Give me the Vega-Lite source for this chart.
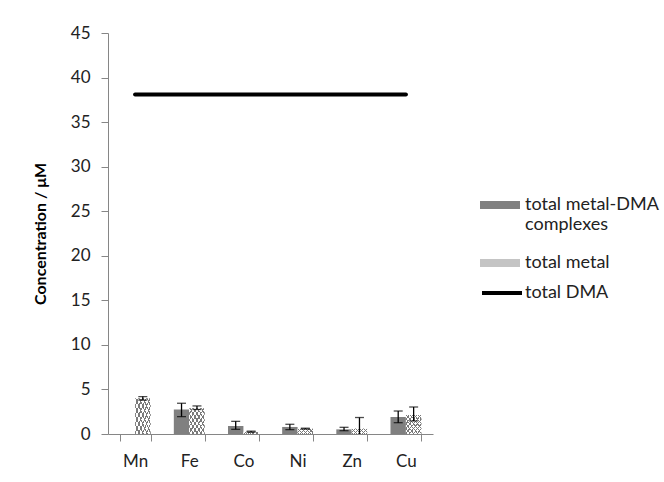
{
  "$schema": "https://vega.github.io/schema/vega-lite/v6.json",
  "width": 325,
  "height": 401,
  "autosize": {"type": "none"},
  "padding": {"left": 108, "top": 33, "right": 231, "bottom": 48},
  "background": "white",
  "config": {
    "view": {"stroke": null},
    "font": "Lato",
    "axis": {
      "domainColor": "#868686",
      "tickColor": "#868686",
      "labelColor": "#222222",
      "labelFont": "Lato",
      "labelFontSize": 17,
      "grid": false
    },
    "legend": {"padding": 0, "titlePadding": 0}
  },
  "datasets": {
    "bars": [
      {"metal": "Mn", "series": "total metal-DMA complexes", "value": 0, "lo": null, "hi": null},
      {"metal": "Mn", "series": "total metal", "value": 4.0, "lo": 3.8, "hi": 4.2},
      {"metal": "Fe", "series": "total metal-DMA complexes", "value": 2.75, "lo": 1.95, "hi": 3.45},
      {"metal": "Fe", "series": "total metal", "value": 2.9, "lo": 2.75, "hi": 3.15},
      {"metal": "Co", "series": "total metal-DMA complexes", "value": 0.9, "lo": 0.52, "hi": 1.42},
      {"metal": "Co", "series": "total metal", "value": 0.26, "lo": 0.2, "hi": 0.32},
      {"metal": "Ni", "series": "total metal-DMA complexes", "value": 0.79, "lo": 0.49, "hi": 1.09},
      {"metal": "Ni", "series": "total metal", "value": 0.6, "lo": 0.55, "hi": 0.65},
      {"metal": "Zn", "series": "total metal-DMA complexes", "value": 0.52, "lo": 0.37, "hi": 0.75},
      {"metal": "Zn", "series": "total metal", "value": 0.6, "lo": 0, "hi": 1.85},
      {"metal": "Cu", "series": "total metal-DMA complexes", "value": 1.91, "lo": 1.27, "hi": 2.58},
      {"metal": "Cu", "series": "total metal", "value": 2.13, "lo": 1.46, "hi": 3.03}
    ],
    "dma": [
      {"metal": "Mn", "series": "total DMA", "value": 38.1},
      {"metal": "Fe", "series": "total DMA", "value": 38.1},
      {"metal": "Co", "series": "total DMA", "value": 38.1},
      {"metal": "Ni", "series": "total DMA", "value": 38.1},
      {"metal": "Zn", "series": "total DMA", "value": 38.1},
      {"metal": "Cu", "series": "total DMA", "value": 38.1}
    ]
  },
  "encoding": {
    "x": {
      "field": "metal",
      "type": "nominal",
      "sort": ["Mn", "Fe", "Co", "Ni", "Zn", "Cu"],
      "scale": {"paddingInner": 0.43, "paddingOuter": 0.215},
      "axis": {"title": null, "labelAngle": 0, "tickBand": "extent", "tickSize": 7, "labelPadding": 12}
    },
    "y": {
      "field": "value",
      "type": "quantitative",
      "scale": {"domain": [0, 45], "nice": false},
      "axis": {
        "values": [0, 5, 10, 15, 20, 25, 30, 35, 40, 45],
        "tickSize": 7,
        "labelPadding": 11,
        "title": "Concentration / μM",
        "titleFont": "Lato",
        "titleFontSize": 16,
        "titleFontWeight": "bold",
        "titleColor": "#000000",
        "titlePadding": 22
      }
    }
  },
  "layer": [
    {
      "data": {"name": "bars"},
      "transform": [{"filter": "datum.series == 'total metal-DMA complexes'"}],
      "mark": {"type": "bar"},
      "encoding": {
        "xOffset": {"field": "series", "type": "nominal", "scale": {"domain": ["total metal-DMA complexes", "total metal"], "paddingInner": 0, "paddingOuter": 0}},
        "fill": {
          "field": "series",
          "type": "nominal",
          "scale": {"domain": ["total metal-DMA complexes", "total metal"], "range": ["#808080", "#c4c4c4"]},
          "legend": {
            "orient": "none",
            "legendX": 372,
            "legendY": 152,
            "title": null,
            "symbolType": "M-1,-0.2H1V0.2H-1Z",
            "symbolSize": 1600,
            "symbolStrokeWidth": 0,
            "symbolOpacity": 1,
            "labelFont": "Lato",
            "labelFontSize": 18,
            "labelColor": "#222222",
            "labelLimit": 400,
            "labelOffset": 5,
            "rowPadding": 9,
            "labelExpr": "datum.value == 'total metal-DMA complexes' ? ['total metal-DMA', 'complexes'] : datum.value"
          }
        }
      }
    },
    {
      "data": {"name": "bars"},
      "transform": [{"filter": "datum.series == 'total metal'"}],
      "mark": {
        "type": "bar",
        "fill": {
          "gradient": "linear", "x1": 0, "y1": 0, "x2": 1, "y2": 1,
          "stops": [
            {"offset": 0, "color": "#ffffff"}, {"offset": 0.09, "color": "#ffffff"}, {"offset": 0.09, "color": "#7a7a7a"}, {"offset": 0.125, "color": "#7a7a7a"},
            {"offset": 0.125, "color": "#ffffff"}, {"offset": 0.215, "color": "#ffffff"}, {"offset": 0.215, "color": "#7a7a7a"}, {"offset": 0.25, "color": "#7a7a7a"},
            {"offset": 0.25, "color": "#ffffff"}, {"offset": 0.34, "color": "#ffffff"}, {"offset": 0.34, "color": "#7a7a7a"}, {"offset": 0.375, "color": "#7a7a7a"},
            {"offset": 0.375, "color": "#ffffff"}, {"offset": 0.465, "color": "#ffffff"}, {"offset": 0.465, "color": "#7a7a7a"}, {"offset": 0.5, "color": "#7a7a7a"},
            {"offset": 0.5, "color": "#ffffff"}, {"offset": 0.59, "color": "#ffffff"}, {"offset": 0.59, "color": "#7a7a7a"}, {"offset": 0.625, "color": "#7a7a7a"},
            {"offset": 0.625, "color": "#ffffff"}, {"offset": 0.715, "color": "#ffffff"}, {"offset": 0.715, "color": "#7a7a7a"}, {"offset": 0.75, "color": "#7a7a7a"},
            {"offset": 0.75, "color": "#ffffff"}, {"offset": 0.84, "color": "#ffffff"}, {"offset": 0.84, "color": "#7a7a7a"}, {"offset": 0.875, "color": "#7a7a7a"},
            {"offset": 0.875, "color": "#ffffff"}, {"offset": 0.965, "color": "#ffffff"}, {"offset": 0.965, "color": "#7a7a7a"}, {"offset": 1, "color": "#7a7a7a"}
          ]
        }
      },
      "encoding": {
        "xOffset": {"field": "series", "type": "nominal"}
      }
    },
    {
      "data": {"name": "bars"},
      "transform": [{"filter": "datum.series == 'total metal'"}],
      "mark": {
        "type": "bar",
        "fill": {
          "gradient": "linear", "x1": 1, "y1": 0, "x2": 0, "y2": 1,
          "stops": [
            {"offset": 0, "color": "rgba(255,255,255,0)"}, {"offset": 0.09, "color": "rgba(255,255,255,0)"}, {"offset": 0.09, "color": "#7a7a7a"}, {"offset": 0.125, "color": "#7a7a7a"},
            {"offset": 0.125, "color": "rgba(255,255,255,0)"}, {"offset": 0.215, "color": "rgba(255,255,255,0)"}, {"offset": 0.215, "color": "#7a7a7a"}, {"offset": 0.25, "color": "#7a7a7a"},
            {"offset": 0.25, "color": "rgba(255,255,255,0)"}, {"offset": 0.34, "color": "rgba(255,255,255,0)"}, {"offset": 0.34, "color": "#7a7a7a"}, {"offset": 0.375, "color": "#7a7a7a"},
            {"offset": 0.375, "color": "rgba(255,255,255,0)"}, {"offset": 0.465, "color": "rgba(255,255,255,0)"}, {"offset": 0.465, "color": "#7a7a7a"}, {"offset": 0.5, "color": "#7a7a7a"},
            {"offset": 0.5, "color": "rgba(255,255,255,0)"}, {"offset": 0.59, "color": "rgba(255,255,255,0)"}, {"offset": 0.59, "color": "#7a7a7a"}, {"offset": 0.625, "color": "#7a7a7a"},
            {"offset": 0.625, "color": "rgba(255,255,255,0)"}, {"offset": 0.715, "color": "rgba(255,255,255,0)"}, {"offset": 0.715, "color": "#7a7a7a"}, {"offset": 0.75, "color": "#7a7a7a"},
            {"offset": 0.75, "color": "rgba(255,255,255,0)"}, {"offset": 0.84, "color": "rgba(255,255,255,0)"}, {"offset": 0.84, "color": "#7a7a7a"}, {"offset": 0.875, "color": "#7a7a7a"},
            {"offset": 0.875, "color": "rgba(255,255,255,0)"}, {"offset": 0.965, "color": "rgba(255,255,255,0)"}, {"offset": 0.965, "color": "#7a7a7a"}, {"offset": 1, "color": "#7a7a7a"}
          ]
        }
      },
      "encoding": {
        "xOffset": {"field": "series", "type": "nominal"}
      }
    },
    {
      "data": {"name": "bars"},
      "transform": [{"filter": "datum.hi != null"}],
      "mark": {"type": "rule", "color": "#000000", "strokeWidth": 1.3},
      "encoding": {
        "xOffset": {"field": "series", "type": "nominal"},
        "y": {"field": "lo", "type": "quantitative"},
        "y2": {"field": "hi"}
      }
    },
    {
      "data": {"name": "bars"},
      "transform": [{"filter": "datum.hi != null"}],
      "mark": {"type": "tick", "color": "#000000", "thickness": 1.3, "size": 9, "orient": "horizontal"},
      "encoding": {
        "xOffset": {"field": "series", "type": "nominal"},
        "y": {"field": "hi", "type": "quantitative"}
      }
    },
    {
      "data": {"name": "bars"},
      "transform": [{"filter": "datum.hi != null && datum.lo > 0"}],
      "mark": {"type": "tick", "color": "#000000", "thickness": 1.3, "size": 9, "orient": "horizontal"},
      "encoding": {
        "xOffset": {"field": "series", "type": "nominal"},
        "y": {"field": "lo", "type": "quantitative"}
      }
    },
    {
      "data": {"name": "dma"},
      "mark": {"type": "line", "strokeWidth": 4, "strokeCap": "round"},
      "encoding": {
        "stroke": {
          "field": "series",
          "type": "nominal",
          "scale": {"range": ["#000000"]},
          "legend": {
            "orient": "none",
            "legendX": 372,
            "legendY": 238,
            "title": null,
            "symbolType": "stroke",
            "symbolSize": 1600,
            "symbolStrokeWidth": 4,
            "labelFont": "Lato",
            "labelFontSize": 18,
            "labelColor": "#222222",
            "labelOffset": 1
          }
        }
      }
    }
  ]
}
